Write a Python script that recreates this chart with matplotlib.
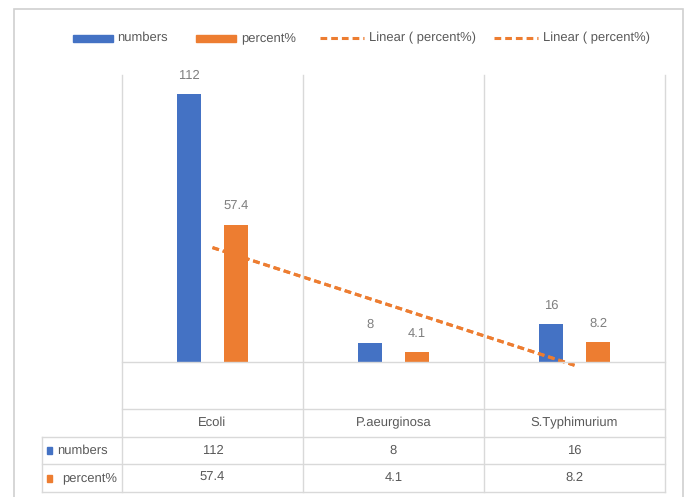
import matplotlib.pyplot as plt
from matplotlib.patches import Rectangle
from matplotlib.lines import Line2D
import numpy as np

plt.rcParams['font.family'] = ['Liberation Sans', 'DejaVu Sans']
plt.rcParams['text.hinting'] = 'no_hinting'
plt.rcParams['text.hinting_factor'] = 1

categories = ["Ecoli", "P.aeurginosa", "S.Typhimurium"]
numbers = [112, 8, 16]
percent = [57.4, 4.1, 8.2]
series_names = ["numbers", "percent%"]

BLUE = '#4472C4'
ORANGE = '#ED7D31'
GRID = '#D9D9D9'
TXT = '#595959'
FS = 9.5

W, H = 688, 497
fig = plt.figure(figsize=(W / 100, H / 100), dpi=100)

def fx(px):
    return px / W

def fy(py):
    return (H - py) / H

def hline(x0, x1, y, color=GRID, lw=1.0):
    fig.add_artist(Line2D([fx(x0), fx(x1)], [fy(y), fy(y)], color=color, lw=lw,
                          transform=fig.transFigure))

def vline(x, y0, y1, color=GRID, lw=1.0):
    fig.add_artist(Line2D([fx(x), fx(x)], [fy(y0), fy(y1)], color=color, lw=lw,
                          transform=fig.transFigure))

# outer chart frame
fig.add_artist(Rectangle((fx(14), fy(500)), fx(683) - fx(14), fy(9) - fy(500),
                         transform=fig.transFigure, fill=False, edgecolor='#D0D0D0', lw=1.2))

# plot area
left, right, top, base = 122, 665, 75, 362
ax = fig.add_axes([fx(left), fy(base), fx(right) - fx(left), fy(top) - fy(base)])
ax.set_xlim(0.5, 3.5)
ax.set_ylim(0, 120)
for s in ax.spines.values():
    s.set_visible(False)
ax.set_xticks([])
ax.set_yticks([])
ax.patch.set_alpha(0)

x = np.arange(1, len(categories) + 1)
bw = 0.133
off = 0.13
ax.bar(x - off, numbers, bw, color=BLUE, zorder=3)
ax.bar(x + off, percent, bw, color=ORANGE, zorder=3)
for xi, v in zip(x, numbers):
    ax.annotate(str(v), (xi - off, v), xytext=(0, 9), textcoords='offset points',
                ha='center', va='bottom', fontsize=9, color='#7F7F7F')
for xi, v in zip(x, percent):
    ax.annotate(str(v), (xi + off, v), xytext=(0, 9), textcoords='offset points',
                ha='center', va='bottom', fontsize=9, color='#7F7F7F')

# linear trendline of percent% (drawn twice, as in the legend)
coef = np.polyfit(x, percent, 1)
tx = np.array([x[0], x[-1]])
for _ in range(2):
    ax.plot(tx, np.polyval(coef, tx), color=ORANGE, lw=2.2, ls=(0, (2.2, 1.3)), zorder=4,
            clip_on=False)

# grid: category separators and baseline
col_px = [left + (right - left) * i / len(categories) for i in range(len(categories) + 1)]
for cx in col_px:
    vline(cx, top, 492)
hline(left, right, base)

# data table
rows = [409, 437, 464, 492]
hline(left, right, rows[0])
for ry in rows[1:]:
    hline(42, right, ry)
vline(42, rows[1], rows[3])

for i, c in enumerate(categories):
    cx = (col_px[i] + col_px[i + 1]) / 2
    fig.text(fx(cx), fy((rows[0] + rows[1]) / 2), c, ha='center', va='center',
             fontsize=FS, color=TXT)
    fig.text(fx(cx), fy((rows[1] + rows[2]) / 2), str(numbers[i]), ha='center', va='center',
             fontsize=FS, color=TXT)
    fig.text(fx(cx), fy((rows[2] + rows[3]) / 2), str(percent[i]), ha='center', va='center',
             fontsize=FS, color=TXT)

for j, (name, col) in enumerate(zip(series_names, [BLUE, ORANGE])):
    cy = (rows[1 + j] + rows[2 + j]) / 2
    fig.add_artist(Rectangle((fx(47), fy(cy + 3.5)), fx(5), fy(0) - fy(7),
                             transform=fig.transFigure, color=col))
    fig.text(fx(57 + 5 * j), fy(cy), name, ha='left', va='center', fontsize=FS, color=TXT)

# legend
ly = 38
fig.add_artist(Rectangle((fx(73), fy(ly + 3.5)), fx(40), fy(0) - fy(7),
                         transform=fig.transFigure, color=BLUE))
fig.text(fx(117), fy(ly), "numbers", ha='left', va='center', fontsize=FS, color=TXT)
fig.add_artist(Rectangle((fx(196), fy(ly + 3.5)), fx(40), fy(0) - fy(7),
                         transform=fig.transFigure, color=ORANGE))
fig.text(fx(241), fy(ly), "percent%", ha='left', va='center', fontsize=FS, color=TXT)
for x0 in (320, 494):
    fig.add_artist(Line2D([fx(x0), fx(x0 + 44)], [fy(ly), fy(ly)], color=ORANGE, lw=2.2,
                          ls=(0, (2.2, 1.3)), transform=fig.transFigure))
    fig.text(fx(x0 + 49), fy(ly), "Linear ( percent%)", ha='left', va='center',
             fontsize=FS, color=TXT)

fig.savefig("out.png", dpi=100)
